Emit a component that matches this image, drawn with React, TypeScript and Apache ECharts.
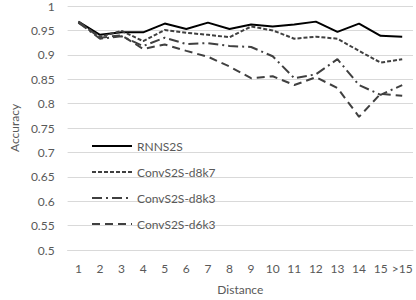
import React, { useEffect, useRef } from "react";
import * as echarts from "echarts";

const categories = ["1", "2", "3", "4", "5", "6", "7", "8", "9", "10", "11", "12", "13", "14", "15", ">15"];
const seriesNames = ["RNNS2S", "ConvS2S-d8k7", "ConvS2S-d8k3", "ConvS2S-d6k3"];
const rnns2s = [0.968, 0.941, 0.946, 0.946, 0.964, 0.953, 0.966, 0.953, 0.962, 0.958, 0.962, 0.968, 0.947, 0.964, 0.939, 0.937];
const d8k7 = [0.966, 0.937, 0.949, 0.928, 0.951, 0.945, 0.941, 0.936, 0.958, 0.950, 0.933, 0.937, 0.933, 0.908, 0.884, 0.891];
const d8k3 = [0.966, 0.933, 0.938, 0.918, 0.935, 0.922, 0.924, 0.918, 0.916, 0.897, 0.852, 0.860, 0.891, 0.838, 0.818, 0.838];
const d6k3 = [0.968, 0.935, 0.940, 0.912, 0.921, 0.908, 0.896, 0.876, 0.852, 0.856, 0.838, 0.854, 0.832, 0.773, 0.820, 0.816];

const FONT = "Lato";
const TEXT = "#595959";

export default function App() {
  const ref = useRef<HTMLDivElement>(null);
  useEffect(() => {
    if (!ref.current) return;
    const chart = echarts.init(ref.current, undefined, { renderer: "svg" });
    const mk = (name: string, data: number[], color: string, type: any) => ({
      name,
      type: "line",
      data,
      symbol: "none",
      showSymbol: false,
      lineStyle: { color, width: 2, type },
      itemStyle: { color },
    });
    chart.setOption({
      animation: false,
      textStyle: { fontFamily: FONT, color: TEXT },
      grid: { left: 55, right: 3, top: 6, bottom: 47 },
      legend: {
        orient: "vertical",
        left: 86,
        top: 135,
        itemWidth: 40,
        itemHeight: 12,
        itemGap: 14,
        itemStyle: { opacity: 0 },
        textStyle: { fontFamily: FONT, fontSize: 12, color: TEXT },
        data: seriesNames,
      },
      xAxis: {
        type: "category",
        data: categories,
        boundaryGap: true,
        name: "Distance",
        nameLocation: "middle",
        nameGap: 33,
        nameTextStyle: { fontFamily: FONT, fontSize: 12, color: TEXT },
        axisLine: { show: true, lineStyle: { color: "#d9d9d9" } },
        axisTick: { show: false },
        axisLabel: { fontFamily: FONT, fontSize: 12, color: TEXT, margin: 12, interval: 0 },
      },
      yAxis: {
        type: "value",
        min: 0.5,
        max: 1,
        interval: 0.05,
        name: "Accuracy",
        nameLocation: "middle",
        nameGap: 44,
        nameTextStyle: { fontFamily: FONT, fontSize: 12, color: TEXT },
        axisLine: { show: false },
        axisTick: { show: false },
        axisLabel: {
          fontFamily: FONT,
          fontSize: 12,
          color: TEXT,
          margin: 13,
          formatter: (v: number) => String(parseFloat(v.toFixed(2))),
        },
        splitLine: { lineStyle: { color: "#d9d9d9", width: 1 } },
      },
      series: [
        mk(seriesNames[0], rnns2s, "#000000", "solid"),
        mk(seriesNames[1], d8k7, "#404040", [4, 2]),
        mk(seriesNames[2], d8k3, "#404040", [10, 4, 2, 4]),
        mk(seriesNames[3], d6k3, "#404040", [8, 5]),
      ],
    });
    return () => chart.dispose();
  }, []);
  return <div ref={ref} style={{ width: 416, height: 300, position: "absolute", left: 0, top: 0 }} />;
}
